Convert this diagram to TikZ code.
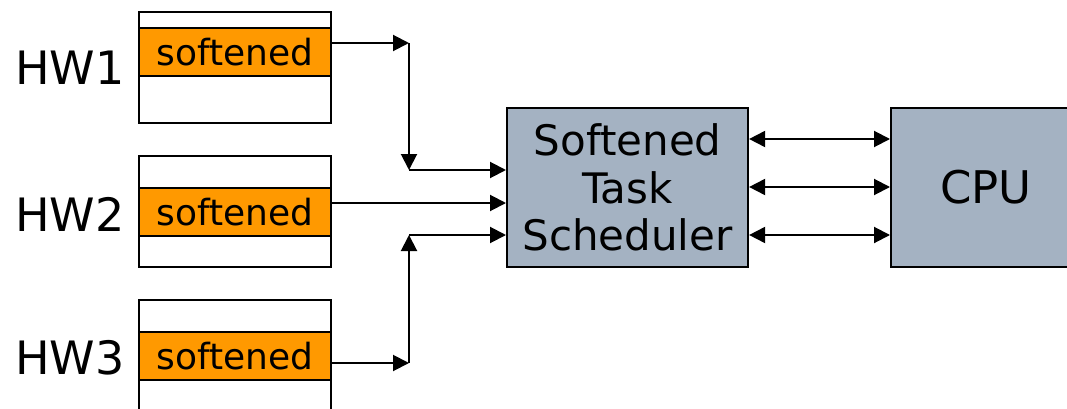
\documentclass[tikz,border=0pt]{standalone}
\usepackage{fontspec}
\setmainfont{DejaVu Sans}
\usetikzlibrary{arrows.meta,calc}
\definecolor{bandorange}{RGB}{255,153,0}
\definecolor{slate}{RGB}{164,178,194}
\begin{document}
\begin{tikzpicture}[x=1pt,y=-1pt,
  hwbox/.style={draw,line width=2.1pt,fill=white,minimum width=192pt,
    minimum height=111pt,inner sep=0pt,anchor=north west},
  band/.style={draw,line width=2.1pt,fill=bandorange,minimum width=192pt,
    minimum height=48pt,inner sep=0pt,anchor=north west,
    font=\fontsize{36}{40}\selectfont},
  unit/.style={draw,line width=2.1pt,fill=slate,inner sep=0pt,anchor=north west,
    minimum height=159pt},
  hwlabel/.style={anchor=base,inner sep=0pt,font=\fontsize{46}{50}\selectfont},
  tip/.style={Triangle[length=16pt,width=16pt]},
  arr/.style={line width=2pt,-{Triangle[length=16pt,width=16pt]}},
  biarr/.style={line width=2pt,{Triangle[length=16pt,width=16pt]}-{Triangle[length=16pt,width=16pt]}}]
\clip (0,0) rectangle (1067,409);
\fill[white] (0,0) rectangle (1067,409);

% hardware blocks with their softened regions
\node[hwbox] (hw1) at (138,11) {};
\node[band] (hw1band) at (138,27) {softened};
\node[hwbox] (hw2) at (138,155) {};
\node[band] (hw2band) at (138,187) {softened};
\node[hwbox,minimum height=118pt] (hw3) at (138,299) {};
\node[band] (hw3band) at (138,331) {softened};

\node[hwlabel] (l1) at (70,85) {HW1};
\node[hwlabel] (l2) at (70,231) {HW2};
\node[hwlabel] (l3) at (70,374) {HW3};

% scheduler and processor
\node[unit,minimum width=241pt,align=center,
  font=\fontsize{42}{47.5}\selectfont] (sched) at (506,107)
  {Softened\\Task\\Scheduler};
\node[unit,minimum width=190pt,font=\fontsize{45}{50}\selectfont] (cpu) at (890,107) {CPU};

% routing points
\coordinate (j1) at (409,43);
\coordinate (j2) at (409,170);
\coordinate (r2) at (330,203);
\coordinate (j3) at (409,363);
\coordinate (j4) at (409,235);
\coordinate (b1) at (818,139);
\coordinate (b2) at (818,187);
\coordinate (b3) at (818,235);

% inputs to the scheduler
\draw[arr] (hw1band.east |- j1) -- (j1);
\draw[arr] (j1) -- (j2);
\draw[arr] (j2) -- (sched.west |- j2);
\draw[arr] (r2) -- (sched.west |- r2);
\draw[arr] (hw3band.east |- j3) -- (j3);
\draw[arr] (j3) -- (j4);
\draw[arr] (j4) -- (sched.west |- j4);

% scheduler <-> CPU links
\draw[biarr] (sched.east |- b1) -- (cpu.west |- b1);
\draw[biarr] (sched.east |- b2) -- (cpu.west |- b2);
\draw[biarr] (sched.east |- b3) -- (cpu.west |- b3);
\end{tikzpicture}
\end{document}
